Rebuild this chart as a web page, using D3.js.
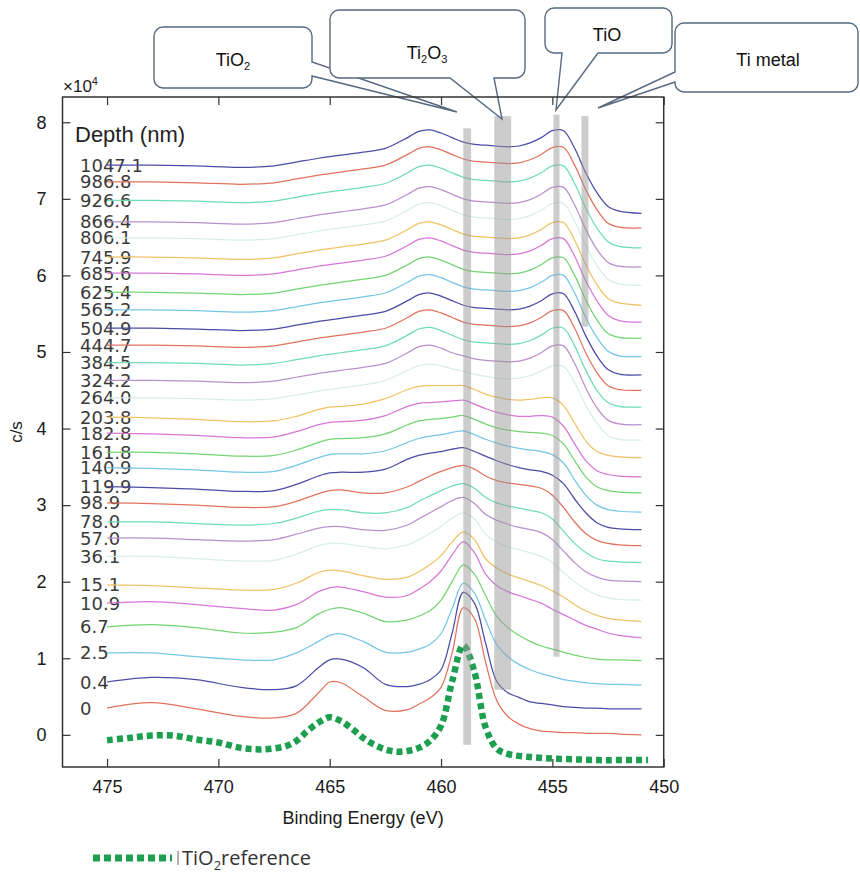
<!DOCTYPE html>
<html><head><meta charset="utf-8">
<script src="https://cdn.jsdelivr.net/npm/d3@7"></script>
<style>body{margin:0;background:#fff}</style>
</head><body><svg id="c" width="860" height="876"></svg>
<script>
// Binding energies (eV) at which each depth spectrum was read
const energies = [475, 473, 471, 469, 467.5, 466.5, 465.5, 465, 464.5, 463.5, 462.5, 461.5, 461, 460.5, 460, 459.5, 459, 458.5, 458, 457.5, 457, 456.5, 456, 455.5, 455, 454.5, 454, 453.5, 453, 452.5, 452, 451];
const depthLabels = ["0","0.4","2.5","6.7","10.9","15.1","36.1","57.0","78.0","98.9","119.9","140.9","161.8","182.8","203.8","264.0","324.2","384.5","444.7","504.9","565.2","625.4","685.6","745.9","806.1","866.4","926.6","986.8","1047.1"];
// intensities in units of 1e4 c/s (stacked as in the figure)
const intensities = [
 [0.35,0.42,0.34,0.24,0.22,0.28,0.55,0.69,0.68,0.50,0.32,0.33,0.40,0.48,0.62,1.07,1.66,1.52,0.95,0.45,0.24,0.14,0.08,0.05,0.04,0.03,0.03,0.02,0.02,0.02,0.01,0.00],
 [0.69,0.75,0.72,0.62,0.59,0.64,0.88,0.98,0.99,0.88,0.66,0.63,0.66,0.72,0.85,1.33,1.86,1.72,1.20,0.70,0.55,0.49,0.43,0.41,0.39,0.37,0.36,0.35,0.35,0.34,0.34,0.34],
 [1.07,1.07,1.02,0.98,0.98,1.07,1.22,1.30,1.32,1.22,1.08,1.08,1.12,1.18,1.32,1.65,1.98,1.85,1.50,1.18,1.02,0.92,0.85,0.80,0.76,0.72,0.70,0.68,0.67,0.66,0.66,0.65],
 [1.41,1.44,1.40,1.33,1.34,1.40,1.58,1.64,1.66,1.59,1.48,1.50,1.55,1.62,1.76,2.00,2.22,2.10,1.82,1.55,1.40,1.30,1.22,1.16,1.12,1.08,1.04,1.01,0.99,0.98,0.98,0.97],
 [1.72,1.74,1.70,1.65,1.63,1.70,1.87,1.92,1.93,1.87,1.80,1.82,1.90,2.00,2.14,2.35,2.52,2.38,2.10,1.95,1.87,1.82,1.77,1.72,1.64,1.57,1.50,1.43,1.38,1.33,1.30,1.27],
 [1.96,1.95,1.92,1.89,1.90,1.98,2.12,2.15,2.14,2.08,2.03,2.06,2.13,2.22,2.34,2.52,2.65,2.55,2.30,2.18,2.10,2.05,2.00,1.95,1.88,1.80,1.70,1.62,1.56,1.52,1.50,1.48],
 [2.33,2.33,2.30,2.27,2.28,2.36,2.47,2.50,2.50,2.46,2.43,2.48,2.55,2.63,2.72,2.83,2.90,2.82,2.62,2.52,2.46,2.42,2.38,2.33,2.25,2.12,2.00,1.90,1.83,1.79,1.77,1.76],
 [2.57,2.57,2.55,2.53,2.55,2.62,2.70,2.72,2.72,2.68,2.67,2.74,2.82,2.90,2.98,3.06,3.10,3.02,2.88,2.80,2.75,2.71,2.68,2.64,2.55,2.40,2.25,2.13,2.06,2.02,2.01,2.00],
 [2.78,2.78,2.76,2.74,2.76,2.83,2.92,2.94,2.94,2.90,2.90,2.97,3.05,3.12,3.19,3.25,3.28,3.22,3.10,3.03,2.99,2.96,2.93,2.90,2.82,2.66,2.50,2.38,2.30,2.27,2.26,2.25],
 [3.03,3.02,3.00,2.97,2.98,3.05,3.15,3.19,3.20,3.16,3.16,3.24,3.31,3.38,3.44,3.49,3.52,3.47,3.38,3.32,3.29,3.27,3.25,3.22,3.13,2.97,2.78,2.63,2.54,2.50,2.48,2.47],
 [3.24,3.23,3.21,3.18,3.19,3.27,3.38,3.42,3.43,3.43,3.47,3.60,3.65,3.68,3.70,3.73,3.75,3.70,3.64,3.58,3.53,3.49,3.46,3.44,3.39,3.28,3.08,2.90,2.77,2.71,2.69,2.68],
 [3.49,3.48,3.46,3.43,3.44,3.52,3.62,3.66,3.67,3.67,3.71,3.82,3.87,3.90,3.92,3.95,3.97,3.92,3.86,3.81,3.77,3.74,3.72,3.70,3.66,3.55,3.33,3.13,3.00,2.94,2.92,2.91],
 [3.69,3.69,3.67,3.64,3.65,3.72,3.82,3.86,3.87,3.88,3.93,4.05,4.10,4.12,4.13,4.15,4.17,4.12,4.06,4.01,3.98,3.96,3.95,3.94,3.91,3.80,3.58,3.37,3.24,3.19,3.17,3.16],
 [3.94,3.93,3.91,3.88,3.89,3.96,4.05,4.08,4.09,4.11,4.17,4.29,4.33,4.34,4.35,4.36,4.37,4.32,4.26,4.21,4.18,4.16,4.16,4.17,4.15,4.03,3.80,3.58,3.45,3.40,3.38,3.37],
 [4.15,4.14,4.12,4.09,4.10,4.16,4.25,4.28,4.29,4.32,4.39,4.51,4.55,4.56,4.56,4.56,4.56,4.51,4.45,4.41,4.38,4.37,4.38,4.40,4.40,4.30,4.07,3.84,3.70,3.65,3.63,3.62],
 [4.40,4.40,4.39,4.37,4.39,4.44,4.49,4.51,4.53,4.57,4.63,4.76,4.82,4.84,4.82,4.78,4.75,4.71,4.68,4.66,4.65,4.66,4.69,4.75,4.82,4.81,4.60,4.30,4.07,3.91,3.86,3.85],
 [4.63,4.63,4.62,4.60,4.62,4.67,4.72,4.74,4.76,4.80,4.85,4.99,5.07,5.09,5.05,4.99,4.95,4.91,4.89,4.88,4.87,4.88,4.92,4.99,5.08,5.08,4.85,4.53,4.27,4.11,4.06,4.05],
 [4.86,4.86,4.85,4.83,4.85,4.90,4.95,4.97,4.99,5.03,5.08,5.22,5.30,5.32,5.28,5.22,5.16,5.13,5.12,5.11,5.10,5.11,5.15,5.22,5.31,5.31,5.08,4.76,4.50,4.34,4.29,4.28],
 [5.09,5.09,5.08,5.06,5.08,5.13,5.18,5.20,5.22,5.26,5.31,5.45,5.53,5.55,5.51,5.45,5.39,5.36,5.35,5.34,5.33,5.34,5.38,5.45,5.54,5.54,5.31,4.99,4.73,4.56,4.51,4.50],
 [5.31,5.31,5.30,5.28,5.30,5.35,5.40,5.42,5.44,5.48,5.53,5.67,5.75,5.77,5.73,5.67,5.61,5.58,5.57,5.56,5.55,5.56,5.60,5.67,5.76,5.76,5.53,5.21,4.95,4.77,4.71,4.70],
 [5.55,5.55,5.54,5.52,5.54,5.59,5.64,5.66,5.68,5.72,5.77,5.91,5.99,6.01,5.97,5.91,5.85,5.82,5.81,5.80,5.79,5.80,5.84,5.91,6.00,6.00,5.77,5.45,5.19,5.01,4.95,4.94],
 [5.78,5.78,5.77,5.75,5.77,5.82,5.87,5.89,5.91,5.95,6.00,6.14,6.22,6.24,6.20,6.14,6.08,6.05,6.04,6.03,6.02,6.03,6.07,6.14,6.23,6.23,6.00,5.68,5.42,5.24,5.19,5.18],
 [6.03,6.03,6.02,6.00,6.02,6.07,6.12,6.14,6.16,6.20,6.25,6.39,6.47,6.49,6.45,6.39,6.33,6.30,6.29,6.28,6.27,6.28,6.32,6.39,6.48,6.48,6.25,5.93,5.67,5.48,5.41,5.39],
 [6.24,6.24,6.23,6.21,6.23,6.28,6.33,6.35,6.37,6.41,6.46,6.60,6.68,6.70,6.66,6.60,6.54,6.51,6.50,6.49,6.48,6.49,6.53,6.60,6.69,6.69,6.46,6.14,5.88,5.70,5.64,5.61],
 [6.49,6.49,6.48,6.46,6.48,6.53,6.58,6.60,6.62,6.66,6.71,6.85,6.93,6.95,6.91,6.85,6.79,6.76,6.75,6.74,6.73,6.74,6.78,6.85,6.94,6.94,6.71,6.39,6.13,5.95,5.89,5.87],
 [6.70,6.70,6.69,6.67,6.69,6.74,6.79,6.81,6.83,6.87,6.92,7.06,7.14,7.16,7.12,7.06,7.00,6.97,6.96,6.95,6.94,6.95,6.99,7.06,7.15,7.15,6.92,6.60,6.34,6.17,6.12,6.11],
 [6.98,6.98,6.97,6.95,6.97,7.02,7.07,7.09,7.11,7.15,7.20,7.34,7.42,7.44,7.40,7.34,7.28,7.25,7.24,7.23,7.22,7.23,7.27,7.34,7.43,7.43,7.20,6.88,6.62,6.44,6.38,6.36],
 [7.22,7.22,7.21,7.19,7.21,7.26,7.31,7.33,7.35,7.39,7.44,7.58,7.66,7.68,7.64,7.58,7.52,7.49,7.48,7.47,7.46,7.47,7.51,7.58,7.67,7.67,7.44,7.12,6.86,6.68,6.63,6.62],
 [7.44,7.44,7.43,7.41,7.43,7.48,7.53,7.55,7.57,7.61,7.66,7.80,7.88,7.90,7.86,7.80,7.74,7.71,7.70,7.69,7.68,7.69,7.73,7.80,7.89,7.89,7.66,7.34,7.08,6.90,6.84,6.81]
];
// TiO2 reference spectrum
const refEnergies = [475,474,473,472,471,470,469,468,467,466.5,466,465.5,465,464.5,464,463.5,463,462.5,462,461.5,461,460.5,460,459.5,459,458.5,458,457.5,457,456,455,454,453,452,450.7];
const refValues   = [-0.07,-0.04,-0.01,-0.01,-0.06,-0.10,-0.17,-0.19,-0.15,-0.08,0.05,0.16,0.23,0.18,0.08,-0.04,-0.13,-0.19,-0.22,-0.21,-0.17,-0.08,0.12,0.70,1.17,0.82,0.10,-0.18,-0.25,-0.29,-0.31,-0.32,-0.33,-0.33,-0.33];
const xTicks = [475,470,465,460,455,450];
const yTicks = [0,1,2,3,4,5,6,7,8];
// chemical-state marker bands (eV range, intensity range)
const bandHigh = [459.0, 457.61, 454.95, 453.69];
const bandLow  = [458.65, 456.85, 454.68, 453.38];
const bandTop  = [7.92, 8.08, 8.10, 8.08];
const bandBottom = [-0.13, 0.59, 1.02, 5.33];

const palette = ["#e2725f","#4b4ba6","#74c6e6","#74d474","#d677d6","#f0c264","#d6eeea","#b98fcc","#6fdcb6"];

const svg = d3.select("#c");
const L = 62.5, R = 663.7, T = 97, B = 767;
const x = d3.scaleLinear().domain([477,450]).range([L,R]);
const y = d3.scaleLinear().domain([-0.42,8.33]).range([B,T]);
const FONT = "'Liberation Sans', Arial, sans-serif";

// depth labels (drawn first, curves pass over them)
svg.append("text").attr("x",75).attr("y",134).attr("dominant-baseline","central")
  .attr("font-family",FONT).attr("font-size",22).attr("fill","#222").text("Depth (nm)");
svg.append("g").selectAll("text").data(depthLabels).join("text")
  .attr("x",80).attr("y",(d,i)=>y(intensities[i][0]))
  .attr("dominant-baseline","central")
  .attr("font-family","'DejaVu Sans', sans-serif").attr("font-size",18)
  .attr("fill","#3a3a3a").text(d=>d);

const line = d3.line().x(d=>x(d[0])).y(d=>y(d[1])).curve(d3.curveCatmullRom.alpha(0.5));
svg.append("g").selectAll("path").data(intensities).join("path")
  .attr("d",vals=>line(vals.map((v,j)=>[energies[j],v])))
  .attr("fill","none").attr("stroke",(d,i)=>palette[i%palette.length])
  .attr("stroke-width",1.25);

// reference
svg.append("path").attr("d",line(refValues.map((v,j)=>[refEnergies[j],v])))
  .attr("fill","none").attr("stroke","#1e9f4f").attr("stroke-width",6.5)
  .attr("stroke-dasharray","6,4");

// bands
svg.append("g").selectAll("rect").data(bandHigh).join("rect")
  .attr("x",(d,i)=>x(bandHigh[i])).attr("width",(d,i)=>x(bandLow[i])-x(bandHigh[i]))
  .attr("y",(d,i)=>y(bandTop[i])).attr("height",(d,i)=>y(bandBottom[i])-y(bandTop[i]))
  .attr("fill","#9a9a9a").attr("opacity",0.5);

// callouts
function callout(box, side, s0, s1, tip){
  const [x0,y0,x1,y1] = box, r = 9;
  let p = `M${x0+r},${y0} L${x1-r},${y0} A${r},${r} 0 0 1 ${x1},${y0+r} `;
  if (side==="right") p += `L${x1},${s0} L${tip[0]},${tip[1]} L${x1},${s1} `;
  p += `L${x1},${y1-r} A${r},${r} 0 0 1 ${x1-r},${y1} `;
  if (side==="bottom") p += `L${s1},${y1} L${tip[0]},${tip[1]} L${s0},${y1} `;
  p += `L${x0+r},${y1} A${r},${r} 0 0 1 ${x0},${y1-r} `;
  if (side==="left") p += `L${x0},${s1} L${tip[0]},${tip[1]} L${x0},${s0} `;
  p += `L${x0},${y0+r} A${r},${r} 0 0 1 ${x0+r},${y0} Z`;
  svg.append("path").attr("d",p).attr("fill","#fff").attr("stroke","#56697f").attr("stroke-width",1.4);
}
function label(cx, by, parts){
  const t = svg.append("text").attr("x",cx).attr("y",by).attr("text-anchor","middle")
    .attr("font-family",FONT).attr("font-size",18).attr("fill","#111");
  parts.forEach(p=>{
    const s = t.append("tspan").text(p[0]);
    if (p[1]==="sub") s.attr("font-size",11).attr("dy",4);
    if (p[1]==="up") s.attr("dy",-4);
  });
}
callout([154,27,312,88],"right",62,76,[457,112]);
label(233,66,[["TiO"],["2","sub"]]);
callout([330,10,525,78],"bottom",450,494,[502,119]);
label(427,59,[["Ti"],["2","sub"],["O","up"],["3","sub"]]);
callout([545,8,672,53],"bottom",562,598,[556,110]);
label(607,41,[["TiO"]]);
callout([675,23,858,92],"left",72,82,[598,108]);
label(768,66,[["Ti metal"]]);

// axes (inward ticks on all four sides)
const gx = svg.append("g").attr("transform",`translate(0,${B})`)
  .call(d3.axisBottom(x).tickValues(xTicks).tickSize(-8).tickPadding(13).tickFormat(d3.format("d")));
const gxt = svg.append("g").attr("transform",`translate(0,${T})`)
  .call(d3.axisTop(x).tickValues(xTicks).tickSize(-8).tickFormat(""));
const gy = svg.append("g").attr("transform",`translate(${L},0)`)
  .call(d3.axisLeft(y).tickValues(yTicks).tickSize(-8).tickPadding(16).tickFormat(d3.format("d")));
const gyr = svg.append("g").attr("transform",`translate(${R},0)`)
  .call(d3.axisRight(y).tickValues(yTicks).tickSize(-8).tickFormat(""));
[gx,gxt,gy,gyr].forEach(g=>{
  g.select(".domain").remove();
  g.selectAll(".tick line").attr("stroke","#333").attr("stroke-width",1.2);
  g.selectAll("text").attr("font-family",FONT).attr("font-size",18).attr("fill","#1a1a1a");
});
svg.append("rect").attr("x",L).attr("y",T).attr("width",R-L).attr("height",B-T)
  .attr("fill","none").attr("stroke","#333").attr("stroke-width",1.5);

// exponent
const ex = svg.append("text").attr("x",63).attr("y",92).attr("font-family",FONT)
  .attr("font-size",17).attr("fill","#1a1a1a");
ex.append("tspan").text("×10");
ex.append("tspan").text("4").attr("font-size",11).attr("dy",-7);

svg.append("text").attr("transform","translate(22,432) rotate(-90)").attr("text-anchor","middle")
  .attr("font-family",FONT).attr("font-size",17).attr("fill","#1a1a1a").text("c/s");
svg.append("text").attr("x",(L+R)/2).attr("y",824).attr("text-anchor","middle")
  .attr("font-family",FONT).attr("font-size",18).attr("fill","#1a1a1a").text("Binding Energy (eV)");

// legend
svg.append("line").attr("x1",93).attr("x2",172).attr("y1",858).attr("y2",858)
  .attr("stroke","#1e9f4f").attr("stroke-width",7).attr("stroke-dasharray","7,4");
svg.append("line").attr("x1",178).attr("x2",178).attr("y1",851).attr("y2",865)
  .attr("stroke","#666").attr("stroke-width",1);
const lg = svg.append("text").attr("x",182).attr("y",865).attr("font-family","'Open Sans', sans-serif")
  .attr("font-size",20).attr("fill","#333");
lg.append("tspan").text("TiO");
lg.append("tspan").text("2").attr("font-size",13).attr("dy",5);
lg.append("tspan").text("reference").attr("dy",-5);
</script></body></html>
